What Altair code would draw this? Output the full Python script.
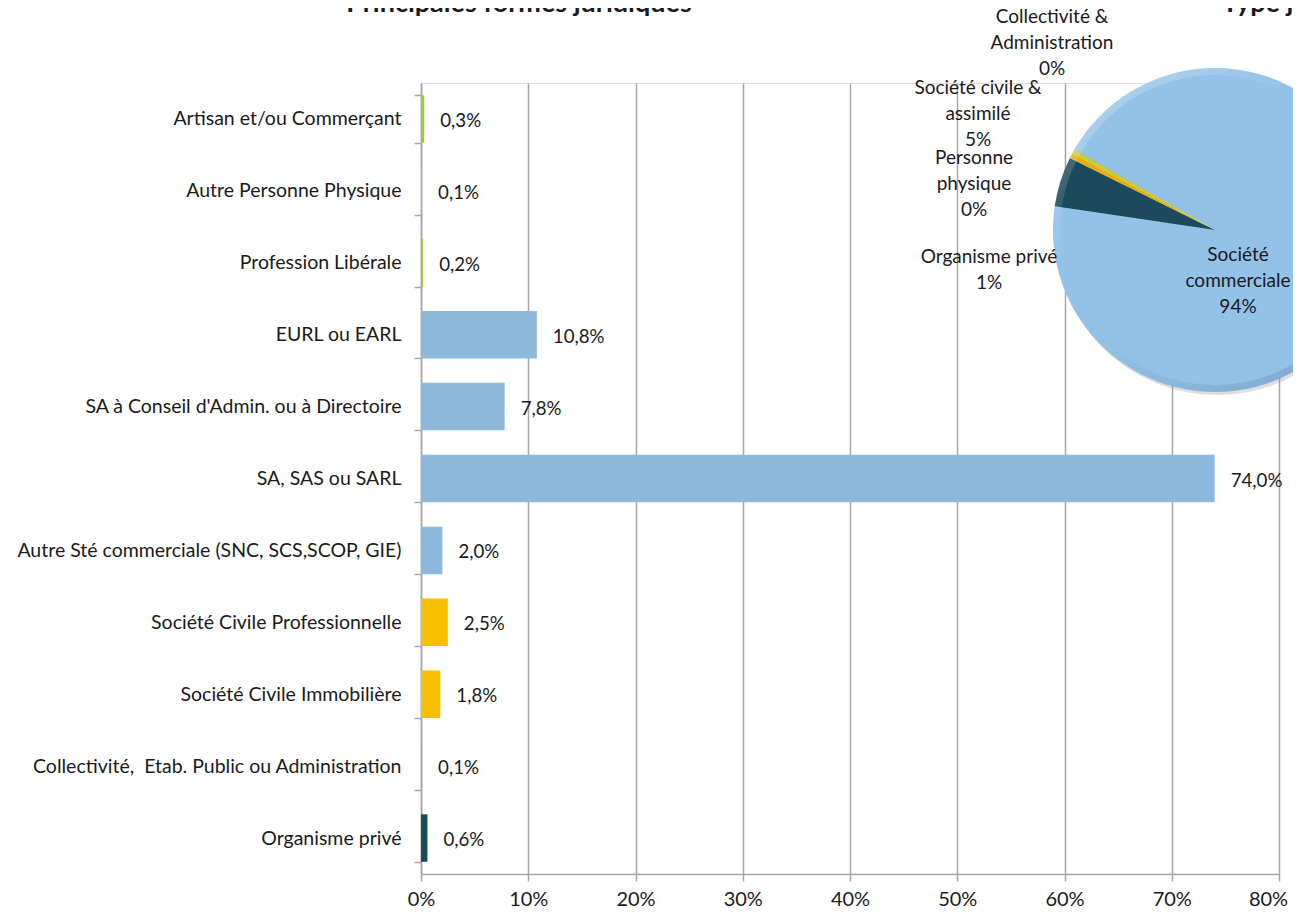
import math
import altair as alt
import pandas as pd

# ---------------- data ----------------
categories = [
    "Artisan et/ou Commerçant",
    "Autre Personne Physique",
    "Profession Libérale",
    "EURL ou EARL",
    "SA à Conseil d'Admin. ou à Directoire",
    "SA, SAS ou SARL",
    "Autre Sté commerciale (SNC, SCS,SCOP, GIE)",
    "Société Civile Professionnelle",
    "Société Civile Immobilière",
    "Collectivité,\u00a0 Etab. Public ou Administration",
    "Organisme privé",
]
values = [0.3, 0.1, 0.2, 10.8, 7.8, 74.0, 2.0, 2.5, 1.8, 0.1, 0.6]
groups = [
    "Personne physique", "Personne physique", "Personne physique",
    "Société commerciale", "Société commerciale", "Société commerciale", "Société commerciale",
    "Société civile", "Société civile",
    "Collectivité", "Organisme privé",
]
x_ticks = [0, 10, 20, 30, 40, 50, 60, 70, 80]

pie_categories = [
    "Société commerciale",
    "Société civile & assimilé",
    "Organisme privé",
    "Personne physique",
    "Collectivité & Administration",
]
pie_values = [94.0, 5.0, 0.5, 0.4, 0.1]
pie_label_lines = [
    ["Société", "commerciale", "94%"],
    ["Société civile &", "assimilé", "5%"],
    ["Organisme privé", "1%"],
    ["Personne", "physique", "0%"],
    ["Collectivité &", "Administration", "0%"],
]
titles = ["Principales formes juridiques", "Type juridique"]

# ---------------- styling ----------------
FONT = "Lato"
GRID = "#a6a6a6"
TXT = "#1a1a1a"
bar_domain = ["Personne physique", "Société commerciale", "Société civile", "Collectivité", "Organisme privé"]
bar_range = ["#9acd3c", "#8db9dc", "#f9be00", "#a5a5a5", "#1b4a5c"]
pie_range = ["#93c2e8", "#1b4a5c", "#f2a900", "#b9d53a", "#a5a5a5"]

W, H = 858, 791

bars_df = pd.DataFrame({"cat": categories, "v": values, "grp": groups})
pie_df = pd.DataFrame({"pcat": pie_categories, "pv": pie_values, "idx": list(range(len(pie_values)))})
one = alt.Data(values=[{"k": 1}])

ybase = alt.Y(
    "cat:N", sort=categories, title=None,
    scale=alt.Scale(paddingInner=0.34, paddingOuter=0.17),
    axis=alt.Axis(tickBand="extent", tickSize=7, tickColor=GRID, tickWidth=1.5,
                  domainColor=GRID, domainWidth=1.5, labelFont=FONT, labelFontSize=19.5,
                  labelColor=TXT, labelPadding=13, labelLimit=420, grid=False),
)
xbase = alt.X(
    "v:Q", title=None,
    scale=alt.Scale(domain=[0, 80], nice=False),
    axis=alt.Axis(values=x_ticks, labelExpr="datum.value + '%'", grid=True, gridColor=GRID,
                  gridWidth=1.5, tickColor=GRID, tickWidth=1.5, tickSize=7, domainColor=GRID,
                  domainWidth=1.5, labelFont=FONT, labelFontSize=20, labelColor=TXT,
                  labelPadding=8, labelFlush=False,
                  labelOffset={"condition": {"test": "datum.value == 80", "value": -11}, "value": 0}),
)

bars = alt.Chart(bars_df).mark_bar().encode(
    x=xbase, y=ybase,
    color=alt.Color("grp:N", scale=alt.Scale(domain=bar_domain, range=bar_range), legend=None),
)

vlabels = alt.Chart(bars_df).transform_calculate(
    lbl="replace(format(datum.v, '.1f'), '.', ',') + '%'"
).mark_text(align="left", baseline="middle", dx=16, dy=2, font=FONT, fontSize=18.7, color=TXT).encode(
    x="v:Q", y=alt.Y("cat:N", sort=categories), text="lbl:N"
)

# pie
CX, CY, R = 794, 147, 162
start = math.radians(300)

shadow = alt.Chart(one).mark_arc(
    theta=0, theta2=2 * math.pi, outerRadius=R, fill="#8a8a8a", opacity=0.28
).encode(x=alt.value(CX + 2), y=alt.value(CY + 3))

pie = alt.Chart(pie_df).mark_arc(outerRadius=R).encode(
    theta=alt.Theta("pv:Q", stack=True, scale=alt.Scale(range=[start, start + 2 * math.pi])),
    order=alt.Order("idx:Q"),
    color=alt.Color("pcat:N", scale=alt.Scale(domain=pie_categories, range=pie_range), legend=None),
    x=alt.value(CX), y=alt.value(CY),
)

rim = alt.Chart(one).mark_arc(
    theta=0, theta2=2 * math.pi, innerRadius=R - 7, outerRadius=R,
    fill=alt.LinearGradient(
        gradient="linear", x1=0, y1=0, x2=0.8, y2=1,
        stops=[
            alt.GradientStop(color="rgba(255,255,255,0.35)", offset=0),
            alt.GradientStop(color="rgba(255,255,255,0.0)", offset=0.4),
            alt.GradientStop(color="rgba(60,80,100,0.0)", offset=0.6),
            alt.GradientStop(color="rgba(60,80,100,0.22)", offset=1),
        ],
    ),
).encode(x=alt.value(CX), y=alt.value(CY))

# pie labels (first-line centre, pixels relative to plot origin)
label_pos = [(817, 172), (557, 4.5), (568, 174), (553, 75), (631, -66)]
label_layers = []
for lines, (lx, ly) in zip(pie_label_lines, label_pos):
    label_layers.append(
        alt.Chart(one).mark_text(
            text=lines, align="center", baseline="middle", lineHeight=26,
            font=FONT, fontSize=19, color=TXT,
        ).encode(x=alt.value(lx), y=alt.value(ly))
    )

title1 = alt.Chart(one).mark_text(
    text=titles[0], align="center", baseline="alphabetic", font=FONT, fontSize=27,
    fontWeight="bold", color=TXT,
).encode(x=alt.value(98), y=alt.value(-71))
title2 = alt.Chart(one).mark_text(
    text=titles[1], align="left", baseline="alphabetic", font=FONT, fontSize=27,
    fontWeight="bold", color=TXT,
).encode(x=alt.value(801), y=alt.value(-71))

chart = alt.layer(
    bars, vlabels, shadow, pie, rim, *label_layers, title1, title2
).resolve_scale(color="independent").properties(
    width=W, height=H,
    autosize=alt.AutoSizeParams(type="none"),
    padding={"left": 413, "top": 75, "right": 14, "bottom": 37},
).configure_view(stroke=None).configure(background="white")

chart.save("out.html", embed_options={"renderer": "svg", "actions": False})
